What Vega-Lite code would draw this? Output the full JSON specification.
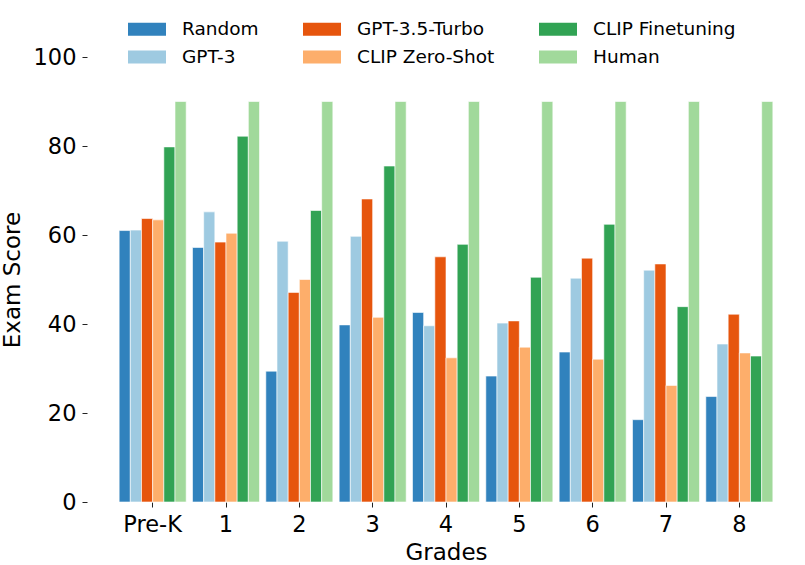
{
  "$schema": "https://vega.github.io/schema/vega-lite/v6.json",
  "width": 660,
  "height": 445,
  "autosize": {"type": "none"},
  "padding": {"left": 116, "top": 57, "right": 29, "bottom": 63},
  "background": "white",
  "data": {
    "values": [
      {"grade": "Pre-K", "model": "Random", "score": 61.0},
      {"grade": "Pre-K", "model": "GPT-3", "score": 61.1},
      {"grade": "Pre-K", "model": "GPT-3.5-Turbo", "score": 63.7},
      {"grade": "Pre-K", "model": "CLIP Zero-Shot", "score": 63.4},
      {"grade": "Pre-K", "model": "CLIP Finetuning", "score": 79.8},
      {"grade": "Pre-K", "model": "Human", "score": 90},
      {"grade": "1", "model": "Random", "score": 57.2},
      {"grade": "1", "model": "GPT-3", "score": 65.2},
      {"grade": "1", "model": "GPT-3.5-Turbo", "score": 58.4},
      {"grade": "1", "model": "CLIP Zero-Shot", "score": 60.4},
      {"grade": "1", "model": "CLIP Finetuning", "score": 82.2},
      {"grade": "1", "model": "Human", "score": 90},
      {"grade": "2", "model": "Random", "score": 29.4},
      {"grade": "2", "model": "GPT-3", "score": 58.6},
      {"grade": "2", "model": "GPT-3.5-Turbo", "score": 47.1},
      {"grade": "2", "model": "CLIP Zero-Shot", "score": 50.0},
      {"grade": "2", "model": "CLIP Finetuning", "score": 65.5},
      {"grade": "2", "model": "Human", "score": 90},
      {"grade": "3", "model": "Random", "score": 39.8},
      {"grade": "3", "model": "GPT-3", "score": 59.7},
      {"grade": "3", "model": "GPT-3.5-Turbo", "score": 68.1},
      {"grade": "3", "model": "CLIP Zero-Shot", "score": 41.5},
      {"grade": "3", "model": "CLIP Finetuning", "score": 75.5},
      {"grade": "3", "model": "Human", "score": 90},
      {"grade": "4", "model": "Random", "score": 42.6},
      {"grade": "4", "model": "GPT-3", "score": 39.6},
      {"grade": "4", "model": "GPT-3.5-Turbo", "score": 55.1},
      {"grade": "4", "model": "CLIP Zero-Shot", "score": 32.4},
      {"grade": "4", "model": "CLIP Finetuning", "score": 57.9},
      {"grade": "4", "model": "Human", "score": 90},
      {"grade": "5", "model": "Random", "score": 28.3},
      {"grade": "5", "model": "GPT-3", "score": 40.2},
      {"grade": "5", "model": "GPT-3.5-Turbo", "score": 40.7},
      {"grade": "5", "model": "CLIP Zero-Shot", "score": 34.8},
      {"grade": "5", "model": "CLIP Finetuning", "score": 50.5},
      {"grade": "5", "model": "Human", "score": 90},
      {"grade": "6", "model": "Random", "score": 33.7},
      {"grade": "6", "model": "GPT-3", "score": 50.3},
      {"grade": "6", "model": "GPT-3.5-Turbo", "score": 54.8},
      {"grade": "6", "model": "CLIP Zero-Shot", "score": 32.1},
      {"grade": "6", "model": "CLIP Finetuning", "score": 62.4},
      {"grade": "6", "model": "Human", "score": 90},
      {"grade": "7", "model": "Random", "score": 18.5},
      {"grade": "7", "model": "GPT-3", "score": 52.1},
      {"grade": "7", "model": "GPT-3.5-Turbo", "score": 53.5},
      {"grade": "7", "model": "CLIP Zero-Shot", "score": 26.2},
      {"grade": "7", "model": "CLIP Finetuning", "score": 43.9},
      {"grade": "7", "model": "Human", "score": 90},
      {"grade": "8", "model": "Random", "score": 23.7},
      {"grade": "8", "model": "GPT-3", "score": 35.5},
      {"grade": "8", "model": "GPT-3.5-Turbo", "score": 42.2},
      {"grade": "8", "model": "CLIP Zero-Shot", "score": 33.5},
      {"grade": "8", "model": "CLIP Finetuning", "score": 32.8},
      {"grade": "8", "model": "Human", "score": 90}
    ]
  },
  "mark": {"type": "bar", "stroke": "white", "strokeWidth": 0.6},
  "encoding": {
    "x": {
      "field": "grade",
      "type": "nominal",
      "sort": ["Pre-K", "1", "2", "3", "4", "5", "6", "7", "8"],
      "scale": {"paddingInner": 0.086, "paddingOuter": 0.043},
      "axis": {
        "title": "Grades",
        "labelAngle": 0,
        "domain": false,
        "tickSize": 5,
        "tickColor": "#222",
        "labelPadding": 6,
        "titlePadding": 6
      }
    },
    "xOffset": {
      "field": "model",
      "sort": ["Random", "GPT-3", "GPT-3.5-Turbo", "CLIP Zero-Shot", "CLIP Finetuning", "Human"],
      "scale": {"paddingInner": 0, "paddingOuter": 0}
    },
    "y": {
      "field": "score",
      "type": "quantitative",
      "scale": {"domain": [0, 100]},
      "axis": {
        "title": "Exam Score",
        "values": [0, 20, 40, 60, 80, 100],
        "domain": false,
        "grid": false,
        "offset": 29,
        "tickSize": 5,
        "tickColor": "#222",
        "labelPadding": 6,
        "titlePadding": 9
      }
    },
    "color": {
      "field": "model",
      "type": "nominal",
      "scale": {
        "domain": ["Random", "GPT-3", "GPT-3.5-Turbo", "CLIP Zero-Shot", "CLIP Finetuning", "Human"],
        "range": ["#3182bd", "#9ecae1", "#e6550d", "#fdae6b", "#31a354", "#a1d99b"]
      },
      "legend": {
        "title": null,
        "orient": "none",
        "legendX": 21,
        "legendY": -38,
        "columns": 3,
        "columnPadding": 44,
        "rowPadding": 8,
        "symbolType": "M-1.9,-0.65H1.9V0.65H-1.9Z",
        "symbolSize": 400,
        "symbolStrokeWidth": 0,
        "symbolOpacity": 1,
        "labelOffset": 25,
        "labelFontSize": 18.5,
        "labelLimit": 300,
        "labelColor": "black"
      }
    }
  },
  "config": {
    "font": "DejaVu Sans",
    "view": {"stroke": null},
    "axis": {
      "labelFont": "DejaVu Sans",
      "titleFont": "DejaVu Sans",
      "labelFontSize": 22.5,
      "titleFontSize": 23,
      "titleFontWeight": "normal",
      "labelColor": "black",
      "titleColor": "black"
    },
    "legend": {"labelFont": "DejaVu Sans"}
  }
}
